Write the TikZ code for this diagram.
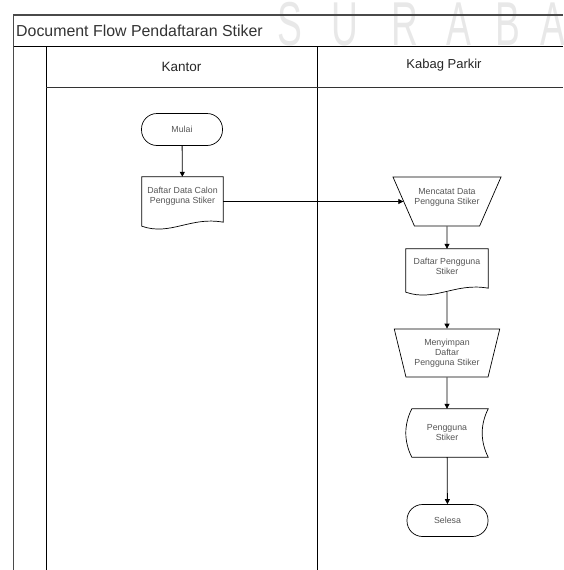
\documentclass[tikz,border=0pt]{standalone}
\usepackage{fontspec}
\setmainfont{Liberation Sans}
\usetikzlibrary{shapes.geometric,arrows.meta,calc}
\definecolor{wmark}{HTML}{E8E8E8}
\definecolor{framegray}{HTML}{4A4A4A}
\definecolor{txtgray}{HTML}{555555}
\definecolor{titlegray}{HTML}{333333}

% document symbol: rectangle with a wavy lower edge, drawn round a named node
\newcommand\docoutline[1]{%
  \draw[outline] (#1.north west) -- (#1.north east) -- ($(#1.south east)+(0,-4)$)
    .. controls ($(#1.south west)!0.6!(#1.south east)+(0,-10)$)
       and ($(#1.south west)!0.35!(#1.south east)+(0,10)$) .. (#1.south west) -- cycle;}

\begin{document}
\begin{tikzpicture}[x=1pt,y=-1pt,
  line/.style={black,line width=0.8pt},
  outline/.style={black,line width=0.7pt},
  flow/.style={line,-{Triangle[length=5pt,width=5pt]}},
  lbl/.style={text=txtgray,font=\fontsize{8.8}{10}\selectfont,align=center,inner sep=0pt},
  wm/.style={text=wmark,anchor=base,inner sep=0pt,font=\fontsize{62}{62}\selectfont},
  head/.style={text=black!85,inner sep=0pt},
  term/.style={outline,draw,rounded corners=15.5pt,minimum width=81pt,minimum height=32pt,inner sep=0pt,lbl},
  holder/.style={inner sep=0pt,minimum width=#1},
  manual/.style={outline,draw,trapezium,shape border rotate=180,trapezium angle=71.8,
    trapezium stretches=true,inner sep=0pt,lbl},
]
\useasboundingbox (0,0) rectangle (563,570);

% faint watermark letters
\node[wm] (w1) at (290,45) {\scalebox{0.6}[1]{S}};
\node[wm] (w2) at (345,45) {\scalebox{0.6}[1]{U}};
\node[wm] (w3) at (405,45) {\scalebox{0.6}[1]{R}};
\node[wm] (w4) at (459,45) {\scalebox{0.6}[1]{A}};
\node[wm] (w5) at (508,45) {\scalebox{0.6}[1]{B}};
\node[wm] (w6) at (553,45) {\scalebox{0.6}[1]{A}};

% swimlane frame
\draw[framegray,line width=1.2pt] (13.5,570) -- (13.5,15) -- (563,15);
\draw[line] (13.5,46.7) -- (563,46.7);
\draw[line] (46,46.7) -- (46,570);
\draw[line] (317,46.7) -- (317,570);
\draw[line,black!80] (46,87.5) -- (563,87.5);

\node[anchor=base west,inner sep=0pt,text=titlegray,font=\fontsize{15.9}{18}\selectfont]
  (title) at (16,36) {Document Flow Pendaftaran Stiker};
\node[head,font=\fontsize{13.5}{15}\selectfont] (kantor) at (181.5,67) {Kantor};
\node[head,font=\fontsize{13}{15}\selectfont] (kabag) at (444,65.5) {Kabag Parkir};

% Kantor lane
\node[term] (mulai) at (182,129.5) {Mulai};
\node[holder=81pt,minimum height=49pt] (doc1) at (182.5,201.5) {};
\docoutline{doc1}
\node[lbl] (doc1t) at (182.5,196) {Daftar Data Calon\\Pengguna Stiker};

% Kabag Parkir lane
\node[manual,minimum width=108pt,minimum height=49pt] (trap1) at (447,201.5) {\phantom{\rule{1pt}{1pt}}};
\node[lbl] (trap1t) at (447,197) {Mencatat Data\\Pengguna Stiker};
\node[holder=82pt,minimum height=43pt] (doc2) at (447,270.5) {};
\docoutline{doc2}
\node[lbl] (doc2t) at (447,266.5) {Daftar Pengguna\\Stiker};
\node[manual,minimum width=106pt,minimum height=48pt] (trap2) at (447,353) {Menyimpan\\Daftar\\Pengguna Stiker};
\node[holder=82pt,minimum height=48pt,lbl] (store) at (447,433) {Pengguna\\Stiker};
\draw[outline] ($(store.north west)+(6,0)$) -- (store.north east)
  .. controls ($(store.north east)+(-8,16)$) and ($(store.south east)+(-8,-16)$) .. (store.south east)
  -- ($(store.south west)+(6,0)$)
  .. controls ($(store.south west)+(-2,-16)$) and ($(store.north west)+(-2,16)$) .. cycle;
\node[term] (selesa) at (447.5,520.5) {Selesa};

% connectors
\draw[flow] (mulai) -- (doc1);
\draw[flow] (doc1) -- (trap1);
\draw[flow] (trap1) -- (doc2);
\draw[flow] (doc2) -- (trap2);
\draw[flow] (trap2) -- (store);
\draw[flow] (store) -- (selesa);
\end{tikzpicture}
\end{document}
